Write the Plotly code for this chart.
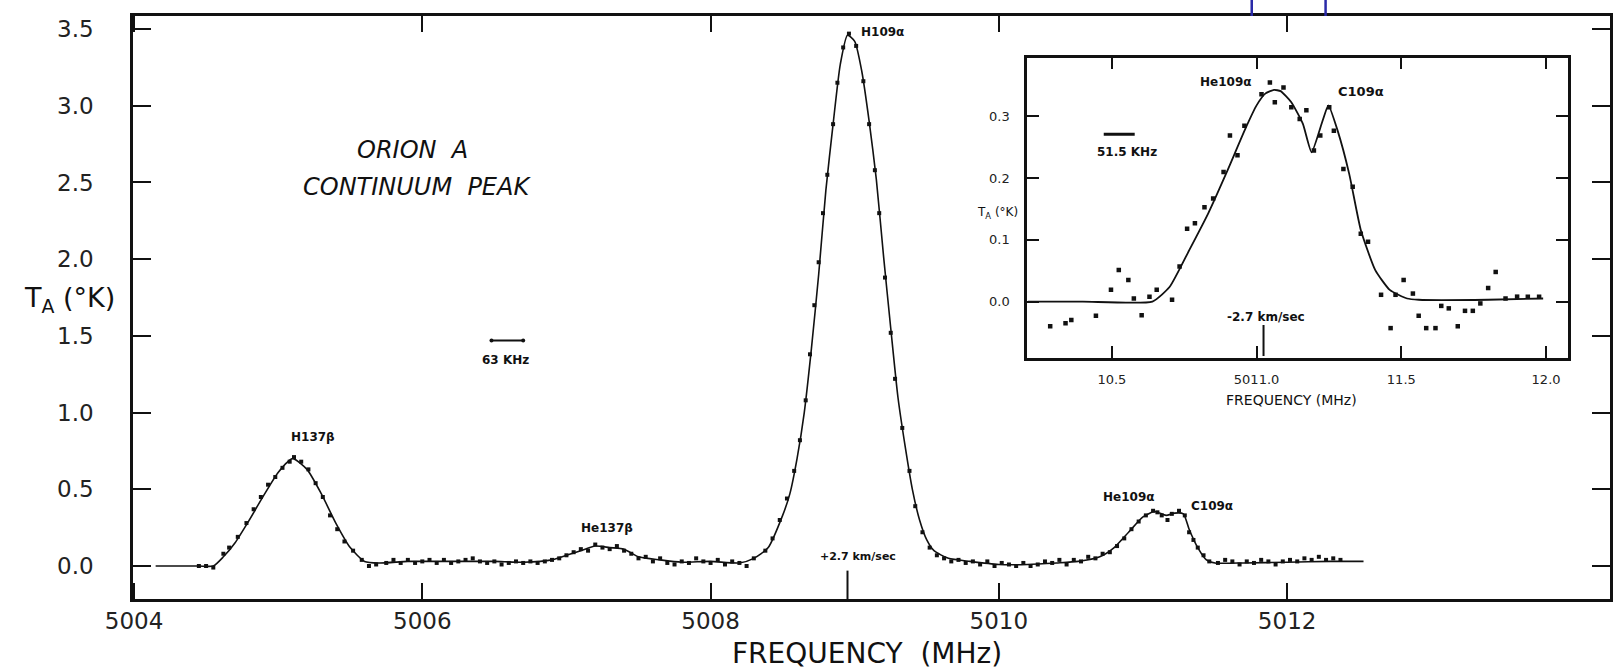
import plotly.graph_objects as go

FONT = "DejaVu Sans"
INK = "#111111"

# ---------------- main spectrum (Orion A continuum peak) ----------------
main_fit_freq = [5004.15, 5004.30, 5004.45, 5004.55, 5004.62, 5004.70, 5004.80, 5004.90, 5005.00,
                 5005.10, 5005.20, 5005.30, 5005.40, 5005.50, 5005.60, 5005.70, 5005.90, 5006.10,
                 5006.30, 5006.50, 5006.70, 5006.90, 5007.00, 5007.10, 5007.20, 5007.30, 5007.40,
                 5007.50, 5007.65, 5007.80, 5008.00, 5008.20, 5008.30, 5008.40, 5008.50, 5008.55,
                 5008.60, 5008.65, 5008.70, 5008.75, 5008.80, 5008.85, 5008.90, 5008.95, 5009.00,
                 5009.05, 5009.10, 5009.15, 5009.20, 5009.25, 5009.30, 5009.35, 5009.40, 5009.45,
                 5009.50, 5009.55, 5009.65, 5009.80, 5010.00, 5010.20, 5010.40, 5010.55, 5010.70,
                 5010.80, 5010.90, 5011.00, 5011.08, 5011.16, 5011.22, 5011.28, 5011.32, 5011.38,
                 5011.44, 5011.50, 5011.70, 5012.00, 5012.30, 5012.53]
main_fit_ta = [0.00, 0.00, 0.00, 0.00, 0.06, 0.15, 0.30, 0.46, 0.61,
               0.70, 0.63, 0.47, 0.28, 0.12, 0.03, 0.02, 0.03, 0.03,
               0.03, 0.03, 0.025, 0.04, 0.07, 0.10, 0.13, 0.12, 0.11,
               0.06, 0.04, 0.025, 0.03, 0.02, 0.05, 0.12, 0.33, 0.47,
               0.70, 1.00, 1.42, 1.90, 2.45, 2.88, 3.27, 3.46, 3.42,
               3.22, 2.90, 2.52, 2.02, 1.55, 1.10, 0.78, 0.50, 0.30,
               0.17, 0.10, 0.05, 0.03, 0.01, 0.01, 0.02, 0.03, 0.06,
               0.12, 0.22, 0.32, 0.355, 0.33, 0.345, 0.34, 0.24, 0.12,
               0.04, 0.02, 0.02, 0.025, 0.03, 0.03]

main_obs_freq = [5004.45, 5004.50, 5004.55, 5004.62, 5004.66, 5004.72, 5004.78, 5004.83, 5004.88,
                 5004.93, 5004.98, 5005.03, 5005.08, 5005.11, 5005.16, 5005.21, 5005.26, 5005.31,
                 5005.36, 5005.41, 5005.46, 5005.52, 5005.58, 5005.63, 5005.68, 5005.75, 5005.80,
                 5005.85, 5005.90, 5005.95, 5006.00, 5006.05, 5006.10, 5006.15, 5006.20, 5006.25,
                 5006.30, 5006.35, 5006.40, 5006.45, 5006.50, 5006.55, 5006.60, 5006.65, 5006.70,
                 5006.75, 5006.80, 5006.85, 5006.90, 5006.95, 5007.00, 5007.05, 5007.10, 5007.15,
                 5007.20, 5007.25, 5007.30, 5007.35, 5007.40, 5007.45, 5007.50, 5007.55, 5007.60,
                 5007.65, 5007.70, 5007.75, 5007.80, 5007.85, 5007.90, 5007.95, 5008.00, 5008.05,
                 5008.10, 5008.15, 5008.20, 5008.25, 5008.30, 5008.38, 5008.43, 5008.48, 5008.53,
                 5008.58, 5008.62, 5008.66, 5008.69, 5008.72, 5008.75, 5008.78, 5008.81, 5008.85,
                 5008.88, 5008.92, 5008.96, 5009.01, 5009.06, 5009.10, 5009.14, 5009.17, 5009.21,
                 5009.25, 5009.28, 5009.33, 5009.38, 5009.42, 5009.47, 5009.52, 5009.57, 5009.62,
                 5009.67, 5009.72, 5009.77, 5009.82, 5009.87, 5009.92, 5009.97, 5010.02, 5010.07,
                 5010.12, 5010.17, 5010.22, 5010.27, 5010.32, 5010.37, 5010.42, 5010.47, 5010.52,
                 5010.57, 5010.62, 5010.67, 5010.72, 5010.77, 5010.82, 5010.87, 5010.92, 5010.97,
                 5011.02, 5011.07, 5011.10, 5011.13, 5011.17, 5011.20, 5011.25, 5011.29, 5011.32,
                 5011.35, 5011.38, 5011.42, 5011.46, 5011.52, 5011.57, 5011.62, 5011.67, 5011.72,
                 5011.77, 5011.82, 5011.87, 5011.92, 5011.97, 5012.02, 5012.07, 5012.12, 5012.17,
                 5012.22, 5012.27, 5012.32, 5012.37]
main_obs_ta = [0.00, 0.00, -0.01, 0.08, 0.12, 0.19, 0.28, 0.37, 0.45,
               0.53, 0.58, 0.64, 0.68, 0.71, 0.68, 0.63, 0.54, 0.45,
               0.33, 0.24, 0.16, 0.10, 0.04, 0.00, 0.01, 0.02, 0.04,
               0.02, 0.04, 0.02, 0.03, 0.04, 0.02, 0.04, 0.02, 0.03,
               0.04, 0.05, 0.03, 0.02, 0.03, 0.01, 0.02, 0.03, 0.02,
               0.03, 0.02, 0.03, 0.04, 0.05, 0.07, 0.09, 0.11, 0.10,
               0.14, 0.12, 0.11, 0.13, 0.10, 0.08, 0.05, 0.06, 0.03,
               0.05, 0.02, 0.01, 0.03, 0.02, 0.05, 0.03, 0.02, 0.04,
               0.01, 0.03, 0.02, 0.00, 0.05, 0.10, 0.18, 0.30, 0.44,
               0.62, 0.82, 1.08, 1.38, 1.70, 1.98, 2.30, 2.55, 2.88,
               3.15, 3.38, 3.47, 3.39, 3.16, 2.88, 2.58, 2.30, 1.88,
               1.52, 1.22, 0.90, 0.62, 0.39, 0.22, 0.12, 0.07, 0.05,
               0.03, 0.04, 0.02, 0.03, 0.01, 0.03, 0.00, 0.02, 0.01,
               0.00, 0.02, 0.00, 0.01, 0.03, 0.02, 0.04, 0.01, 0.04,
               0.03, 0.06, 0.05, 0.08, 0.09, 0.13, 0.18, 0.24, 0.29,
               0.33, 0.36, 0.35, 0.33, 0.30, 0.34, 0.36, 0.33, 0.22,
               0.17, 0.12, 0.07, 0.03, 0.02, 0.04, 0.03, 0.01, 0.03,
               0.02, 0.04, 0.03, 0.01, 0.03, 0.04, 0.03, 0.05, 0.04,
               0.06, 0.04, 0.05, 0.04]

main_xtick_vals = [5004, 5006, 5008, 5010, 5012]
main_xtick_text = ["5004", "5006", "5008", "5010", "5012"]
main_ytick_vals = [0.0, 0.5, 1.0, 1.5, 2.0, 2.5, 3.0, 3.5]
main_ytick_text = ["0.0", "0.5", "1.0", "1.5", "2.0", "2.5", "3.0", "3.5"]

# ---------------- inset: He109a / C109a ----------------
inset_fit_freq = [5010.21, 5010.40, 5010.64, 5010.70, 5010.767, 5010.833, 5010.90, 5010.964, 5011.00,
                  5011.03, 5011.06, 5011.083, 5011.12, 5011.16, 5011.19, 5011.228, 5011.248, 5011.28,
                  5011.32, 5011.36, 5011.41, 5011.46, 5011.52, 5011.56, 5011.80, 5011.99]
inset_fit_ta = [0.000, 0.000, 0.000, 0.024, 0.083, 0.143, 0.213, 0.283, 0.318,
                0.337, 0.343, 0.341, 0.323, 0.288, 0.242, 0.293, 0.318, 0.277,
                0.207, 0.116, 0.051, 0.019, 0.005, 0.003, 0.003, 0.005]

inset_obs_freq = [5010.287, 5010.340, 5010.360, 5010.445, 5010.497, 5010.524, 5010.557, 5010.576,
                  5010.603, 5010.630, 5010.655, 5010.708, 5010.734, 5010.760, 5010.787, 5010.820,
                  5010.850, 5010.886, 5010.908, 5010.934, 5010.958, 5011.017, 5011.046, 5011.063,
                  5011.093, 5011.120, 5011.149, 5011.172, 5011.198, 5011.220, 5011.251, 5011.267,
                  5011.300, 5011.332, 5011.360, 5011.385, 5011.430, 5011.463, 5011.480, 5011.508,
                  5011.540, 5011.560, 5011.586, 5011.618, 5011.638, 5011.664, 5011.695, 5011.720,
                  5011.747, 5011.773, 5011.800, 5011.826, 5011.860, 5011.900, 5011.937, 5011.976]
inset_obs_ta = [-0.040, -0.035, -0.030, -0.023, 0.019, 0.051, 0.035, 0.005,
                -0.022, 0.008, 0.019, 0.003, 0.057, 0.118, 0.127, 0.153,
                0.167, 0.210, 0.269, 0.237, 0.285, 0.336, 0.355, 0.323,
                0.347, 0.315, 0.296, 0.310, 0.245, 0.269, 0.315, 0.277,
                0.215, 0.186, 0.110, 0.097, 0.011, -0.043, 0.011, 0.035,
                0.013, -0.023, -0.043, -0.043, -0.007, -0.011, -0.040, -0.015,
                -0.015, -0.003, 0.022, 0.048, 0.005, 0.008, 0.008, 0.008]

inset_xtick_vals = [5010.5, 5011.0, 5011.5, 5012.0]
inset_xtick_text = ["10.5", "5011.0", "11.5", "12.0"]
inset_ytick_vals = [0.0, 0.1, 0.2, 0.3]
inset_ytick_text = ["0.0", "0.1", "0.2", "0.3"]

# annotation anchors (data units)
bar63_freq = [5006.48, 5006.70]
bar63_ta = 1.47
bar51_freq = [5010.472, 5010.579]
bar51_ta = 0.271
vel_main_freq = 5008.95
vel_inset_freq = 5011.024

fig = go.Figure()

fig.add_trace(go.Scatter(x=main_fit_freq, y=main_fit_ta, mode="lines",
                         line=dict(color=INK, width=1.6, shape="spline", smoothing=0.6),
                         xaxis="x", yaxis="y", showlegend=False, hoverinfo="skip"))
fig.add_trace(go.Scatter(x=main_obs_freq, y=main_obs_ta, mode="markers",
                         marker=dict(color=INK, size=4, symbol="square"),
                         xaxis="x", yaxis="y", showlegend=False))
fig.add_trace(go.Scatter(x=inset_fit_freq, y=inset_fit_ta, mode="lines",
                         line=dict(color=INK, width=1.8, shape="spline", smoothing=0.5),
                         xaxis="x2", yaxis="y2", showlegend=False, hoverinfo="skip"))
fig.add_trace(go.Scatter(x=inset_obs_freq, y=inset_obs_ta, mode="markers",
                         marker=dict(color=INK, size=4.5, symbol="square"),
                         xaxis="x2", yaxis="y2", showlegend=False))

# resolution bars and velocity markers
fig.add_trace(go.Scatter(x=bar63_freq, y=[bar63_ta, bar63_ta], mode="lines+markers",
                         line=dict(color=INK, width=2), marker=dict(size=4, color=INK),
                         xaxis="x", yaxis="y", showlegend=False, hoverinfo="skip"))
fig.add_trace(go.Scatter(x=bar51_freq, y=[bar51_ta, bar51_ta], mode="lines",
                         line=dict(color=INK, width=3),
                         xaxis="x2", yaxis="y2", showlegend=False, hoverinfo="skip"))
fig.add_trace(go.Scatter(x=[vel_main_freq, vel_main_freq], y=[-0.03, -0.215], mode="lines",
                         line=dict(color=INK, width=2),
                         xaxis="x", yaxis="y", showlegend=False, hoverinfo="skip"))
fig.add_trace(go.Scatter(x=[vel_inset_freq, vel_inset_freq], y=[-0.038, -0.088], mode="lines",
                         line=dict(color=INK, width=2),
                         xaxis="x2", yaxis="y2", showlegend=False, hoverinfo="skip"))

axis_common = dict(showgrid=False, zeroline=False, showline=True, linecolor=INK,
                   ticks="inside", tickcolor=INK, mirror="ticks")

fig.update_layout(
    width=1614, height=671,
    margin=dict(l=133, r=1, t=16, b=72),
    paper_bgcolor="white", plot_bgcolor="white",
    font=dict(family=FONT, color=INK),
    xaxis=dict(**axis_common, range=[5003.993, 5014.24], linewidth=2.5,
               tickvals=main_xtick_vals, ticktext=main_xtick_text, ticklen=16, tickwidth=2,
               tickfont=dict(size=23, family=FONT, color="#222"), ticklabelstandoff=0),
    yaxis=dict(**axis_common, range=[-0.215, 3.585], linewidth=2.5,
               tickvals=main_ytick_vals, ticktext=main_ytick_text, ticklen=18, tickwidth=2,
               tickfont=dict(size=23, family=FONT, color="#222"), ticklabelstandoff=32),
    xaxis2=dict(**axis_common, anchor="y2", domain=[0.6053, 0.9716],
                range=[5010.207, 5012.076], linewidth=2.5,
                tickvals=inset_xtick_vals, ticktext=inset_xtick_text, ticklen=12, tickwidth=1.5,
                tickfont=dict(size=13, family=FONT, color="#222"), ticklabelstandoff=8),
    yaxis2=dict(**axis_common, anchor="x2", domain=[0.4134, 0.9288],
                range=[-0.0914, 0.3955], linewidth=2.5,
                tickvals=inset_ytick_vals, ticktext=inset_ytick_text, ticklen=12, tickwidth=1.5,
                tickfont=dict(size=13, family=FONT, color="#222"), ticklabelstandoff=12),
)

ann = []
def add_text(text, x, y, size, xref="x", yref="y", xanchor="center", italic=False, bold=False):
    if italic:
        text = "<i>" + text + "</i>"
    if bold:
        text = "<b>" + text + "</b>"
    ann.append(dict(text=text, x=x, y=y, xref=xref, yref=yref, xanchor=xanchor,
                    yanchor="middle", showarrow=False,
                    font=dict(size=size, family=FONT, color=INK)))

# main labels
add_text("FREQUENCY&#160;&#160;(MHz)", 0.497, -0.094, 28, xref="paper", yref="paper")
add_text("T<sub>A</sub> (°K)", -0.043, 0.513, 27, xref="paper", yref="paper")
add_text("ORION&#160;&#160;A", 5005.93, 2.71, 24, italic=True)
add_text("CONTINUUM&#160;&#160;PEAK", 5005.96, 2.47, 24, italic=True)
add_text("63 KHz", 5006.58, 1.34, 12, bold=True)
add_text("H137β", 5005.24, 0.84, 12, bold=True)
add_text("He137β", 5007.28, 0.25, 12, bold=True)
add_text("H109α", 5009.03, 3.48, 12, xanchor="left", bold=True)
add_text("He109α", 5010.90, 0.45, 12, bold=True)
add_text("C109α", 5011.48, 0.39, 12, bold=True)
add_text("+2.7 km/sec", 5009.02, 0.06, 11, bold=True)

# inset labels
add_text("FREQUENCY (MHz)", 0.7845, (599 - 400) / 583, 14, xref="paper", yref="paper")
add_text("T<sub>A</sub> (°K)", (1022 - 133) / 1480, 0.662, 12, xref="paper", yref="paper",
         xanchor="right")
add_text("He109α", 5010.893, 0.356, 12, xref="x2", yref="y2", bold=True)
add_text("C109α", 5011.362, 0.341, 13, xref="x2", yref="y2", bold=True)
add_text("-2.7 km/sec", 5011.031, -0.025, 12, xref="x2", yref="y2", bold=True)
add_text("51.5 KHz", 5010.552, 0.242, 12, xref="x2", yref="y2", bold=True)

fig.update_layout(annotations=ann)

# small blue marks at the top edge (present in the reference image)
for px in (1254, 1328):
    xp = (px - 133) / 1480
    fig.add_shape(type="line", xref="paper", yref="paper", x0=xp, x1=xp, y0=1.0, y1=1.028,
                  line=dict(color="#2a2aa8", width=2.5))

fig.write_html("out.html")
